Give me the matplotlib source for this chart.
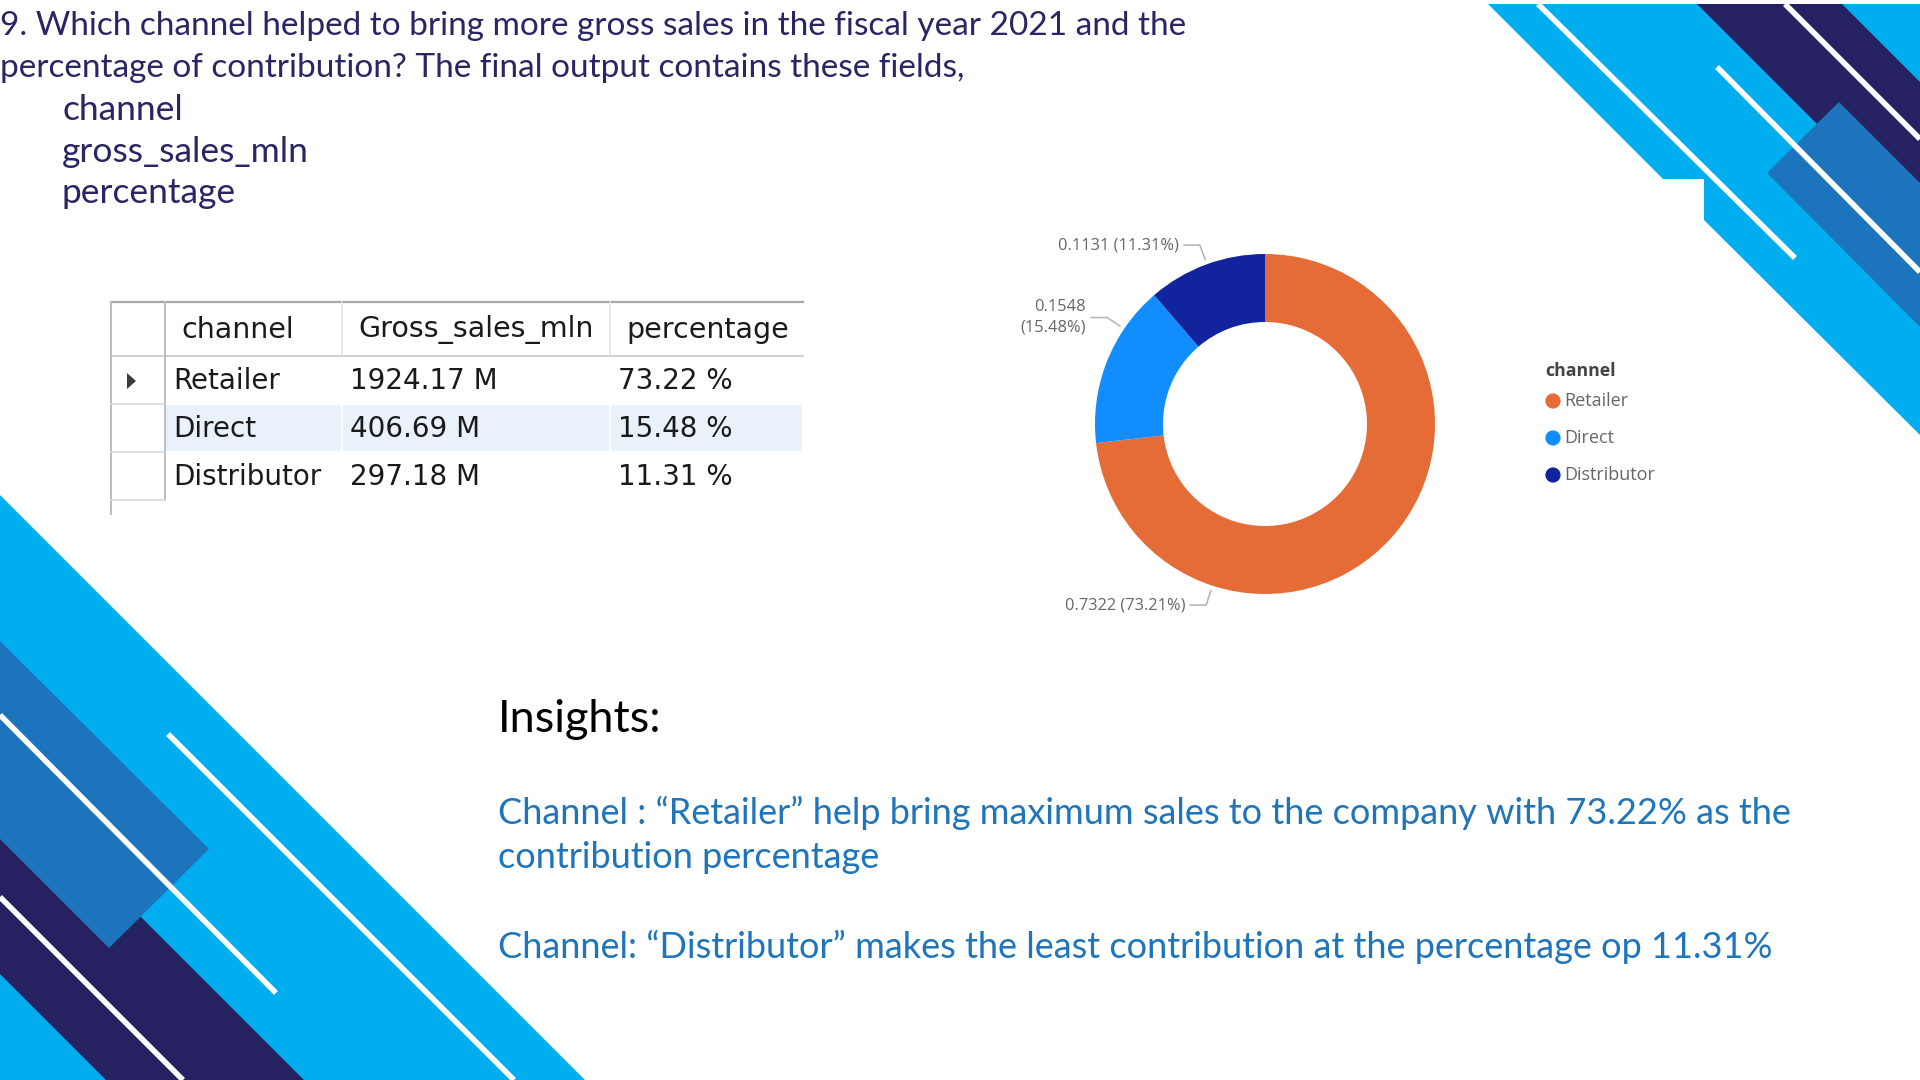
import matplotlib
matplotlib.use("Agg")
import matplotlib.pyplot as plt
from matplotlib.patches import Polygon
import numpy as np

# ---------------------------------------------------------------------------
# Donnees
# ---------------------------------------------------------------------------
channels = ["Retailer", "Direct", "Distributor"]
gross_sales_mln = [1924.17, 406.69, 297.18]
percentage = [73.22, 15.48, 11.31]
donut_share = [0.7322, 0.1548, 0.1131]
channel_colors = ["#E66C37", "#118DFF", "#12239E"]

table_header = ["channel", "Gross_sales_mln", "percentage"]

title_lines = [
    "9. Which channel helped to bring more gross sales in the fiscal year 2021 and the",
    "percentage of contribution? The final output contains these fields,",
]
field_lines = ["channel", "gross_sales_mln", "percentage"]

insight_title = "Insights:"
insight_lines = [
    "Channel : \u201cRetailer\u201d help bring maximum sales to the company with 73.22% as the",
    "contribution percentage",
    "Channel: \u201cDistributor\u201d makes the least contribution at the percentage op 11.31%",
]

# couleurs du theme
CYAN = "#00AEEF"
MID_BLUE = "#1C75BC"
NAVY = "#262262"
TXT_NAVY = "#2A2563"
TXT_BLUE = "#1F75BC"

W, H = 1920, 1080
fig = plt.figure(figsize=(19.2, 10.8), dpi=100)
fig.patch.set_facecolor("white")

# axe de fond en pixels (origine en haut a gauche)
bg = fig.add_axes([0, 0, 1, 1])
bg.set_xlim(0, W)
bg.set_ylim(H, 0)
bg.axis("off")

# ---------------------------------------------------------------------------
# Decor : bandes diagonales
# ---------------------------------------------------------------------------
def band(pts, color):
    bg.add_patch(Polygon(pts, closed=True, facecolor=color, edgecolor="none"))


def stripe(p0, p1, lw=4.0):
    bg.plot([p0[0], p1[0]], [p0[1], p1[1]], color="white", lw=lw,
            solid_capstyle="butt")


# en bas a gauche
band([(0, 495), (585, 1080), (0, 1080)], CYAN)
band([(0, 776), (304, 1080), (106, 1080), (0, 974)], NAVY)
band([(0, 641), (209, 849), (109, 948), (0, 839)], MID_BLUE)
stripe((0, 715), (276, 993))
stripe((0, 897), (183, 1080))
stripe((168, 734), (514, 1080))

# en haut a droite
band([(1488, 4), (1920, 4), (1920, 435), (1704, 220), (1704, 179), (1663, 179)], CYAN)
band([(1697, 4), (1842, 4), (1920, 82), (1920, 227)], NAVY)
band([(1839, 102), (1920, 183), (1920, 327), (1767, 173)], MID_BLUE)
stripe((1538, 4), (1795, 258))
stripe((1717, 67), (1920, 272))
stripe((1785, 4), (1920, 139))

# ---------------------------------------------------------------------------
# Textes de la question
# ---------------------------------------------------------------------------
for i, line in enumerate(title_lines):
    bg.text(0, 26 + i * 42, line, fontsize=24, family="Lato", color=TXT_NAVY,
            va="center", ha="left")
for i, line in enumerate(field_lines):
    bg.text(62, 110 + i * 41.5, line, fontsize=25.5, family="Lato", color=TXT_NAVY,
            va="center", ha="left")

# ---------------------------------------------------------------------------
# Tableau de resultats
# ---------------------------------------------------------------------------
x_left, x_mark = 111, 165
col_x = [165, 342, 610, 803]
y_top, y_hdr = 302, 356
row_h = 48
n_rows = len(channels)
y_rows = [y_hdr + (i + 1) * row_h for i in range(n_rows)]

# ligne selectionnee (Direct) surlignee
for c in range(3):
    bg.add_patch(plt.Rectangle((col_x[c] + 1, y_rows[0] + 1),
                               col_x[c + 1] - col_x[c] - 2, row_h - 2,
                               facecolor="#E9F1FB", edgecolor="none"))

grid_c = "#C8C8C8"
bg.plot([x_left, col_x[-1]], [y_top, y_top], color="#A8A8A8", lw=1.6)
bg.plot([x_left, col_x[-1]], [y_hdr, y_hdr], color=grid_c, lw=1.2)
for xc in col_x[1:-1]:
    bg.plot([xc, xc], [y_top, y_hdr], color="#E0E0E0", lw=1.2)
bg.plot([x_left, x_left], [y_top, y_rows[-1] + 14], color="#BDBDBD", lw=1.4)
bg.plot([x_mark, x_mark], [y_top, y_rows[-1]], color="#BDBDBD", lw=1.4)
for yr in y_rows:
    bg.plot([x_left, x_mark], [yr, yr], color="#D8D8D8", lw=1.2)

hdr_x = [181, 358, 626]
for hx, name in zip(hdr_x, table_header):
    bg.text(hx, (y_top + y_hdr) / 2 + 1, name, fontsize=20.5, family="DejaVu Sans",
            color="#1A1A1A", va="center", ha="left")

txt_x = [173, 350, 618]
for i in range(n_rows):
    yc = y_hdr + (i + 0.5) * row_h + 1
    cells = [channels[i], f"{gross_sales_mln[i]:.2f} M", f"{percentage[i]:.2f} %"]
    for tx, cell in zip(txt_x, cells):
        bg.text(tx, yc, cell, fontsize=20, family="DejaVu Sans",
                color="#1A1A1A", va="center", ha="left")

# marqueur de ligne courante
yc0 = y_hdr + 0.5 * row_h + 1
bg.add_patch(Polygon([(127, yc0 - 8), (136, yc0), (127, yc0 + 8)],
                     closed=True, facecolor="#3C3C3C", edgecolor="none"))

# ---------------------------------------------------------------------------
# Donut
# ---------------------------------------------------------------------------
cx, cy, R = 1265, 424, 170
half = 1.6 * R
ax = fig.add_axes([(cx - half) / W, (H - cy - half) / H, 2 * half / W, 2 * half / H])

ax.pie(donut_share, colors=channel_colors, startangle=90, counterclock=False,
       radius=1.0, wedgeprops=dict(width=0.4, edgecolor="none"))
ax.set_xlim(-1.6, 1.6)
ax.set_ylim(-1.6, 1.6)
ax.axis("off")

total = sum(donut_share)
label_angles = [-108, 146, 110]     # position des etiquettes (degres)
label_break = [False, True, False]
px = 1.0 / R
for v, ang, brk in zip(donut_share, label_angles, label_break):
    a = np.deg2rad(ang)
    p0 = 1.03 * np.array([np.cos(a), np.sin(a)])
    p1 = 1.12 * np.array([np.cos(a), np.sin(a)])
    p2 = p1 - np.array([16 * px, 0])
    ax.plot([p0[0], p1[0], p2[0]], [p0[1], p1[1], p2[1]], color="#B3B3B3", lw=1.1)
    sep = "\n" if brk else " "
    ax.text(p2[0] - 5 * px, p2[1], f"{v:.4f}{sep}({v / total * 100:.2f}%)",
            fontsize=11.8, family="Open Sans", color="#666666",
            ha="right", va="center", multialignment="right", linespacing=1.4)

# legende
bg.text(1545, 371, "channel", fontsize=12.8, family="Open Sans", fontweight="bold",
        color="#444444", va="center", ha="left")
for i, (name, col) in enumerate(zip(channels, channel_colors)):
    yl = 401 + i * 37
    bg.scatter([1553], [yl], s=120, color=col, edgecolors="none")
    bg.text(1564, yl, name, fontsize=13, family="Open Sans", color="#666666",
            va="center", ha="left")

# ---------------------------------------------------------------------------
# Insights
# ---------------------------------------------------------------------------
bg.text(498, 719, insight_title, fontsize=32.5, family="Lato", color="black",
        va="center", ha="left")
insight_y = [813, 857, 947]
for yl, line in zip(insight_y, insight_lines):
    bg.text(498, yl, line, fontsize=26, family="Lato", color=TXT_BLUE,
            va="center", ha="left")

fig.savefig("out.png", dpi=100)
